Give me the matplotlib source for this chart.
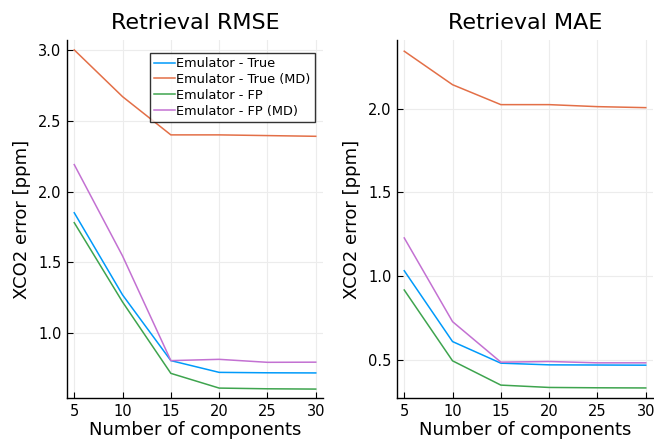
import matplotlib
matplotlib.use("Agg")
import matplotlib.pyplot as plt

n_components = [5, 10, 15, 20, 25, 30]
labels = ["Emulator - True", "Emulator - True (MD)", "Emulator - FP", "Emulator - FP (MD)"]
colors = ["#009AFA", "#E36F47", "#3EA44E", "#C371D2"]

rmse_true = [1.85, 1.27, 0.806, 0.723, 0.720, 0.719]
rmse_true_md = [3.0, 2.67, 2.40, 2.40, 2.395, 2.39]
rmse_fp = [1.78, 1.22, 0.716, 0.612, 0.607, 0.605]
rmse_fp_md = [2.19, 1.545, 0.806, 0.815, 0.794, 0.795]

mae_true = [1.032, 0.609, 0.48, 0.47, 0.469, 0.468]
mae_true_md = [2.343, 2.143, 2.024, 2.024, 2.012, 2.006]
mae_fp = [0.917, 0.494, 0.349, 0.335, 0.333, 0.332]
mae_fp_md = [1.228, 0.728, 0.486, 0.49, 0.482, 0.482]

fig = plt.figure(figsize=(6.54, 4.43), dpi=100)
ax1 = fig.add_axes([67 / 654, 1 - 398 / 443, 256 / 654, 358 / 443])
ax2 = fig.add_axes([397 / 654, 1 - 398 / 443, 256 / 654, 358 / 443])


def style(ax, title):
    for s in ["top", "right"]:
        ax.spines[s].set_visible(False)
    for s in ["left", "bottom"]:
        ax.spines[s].set_linewidth(1.0)
    ax.grid(True, color="#ececec", linewidth=0.8)
    ax.set_axisbelow(True)
    ax.tick_params(direction="in", length=4, width=0.8, labelsize=10.5, pad=4)
    ax.set_xticks(n_components)
    ax.set_xlim(4.25, 30.75)
    ax.set_title(title, fontsize=16, pad=8)
    ax.set_xlabel("Number of components", fontsize=13, labelpad=2)
    ax.set_ylabel("XCO2 error [ppm]", fontsize=13, labelpad=5)


for vals, lab, c in zip([rmse_true, rmse_true_md, rmse_fp, rmse_fp_md], labels, colors):
    ax1.plot(n_components, vals, color=c, lw=1.1, label=lab)
for vals, lab, c in zip([mae_true, mae_true_md, mae_fp, mae_fp_md], labels, colors):
    ax2.plot(n_components, vals, color=c, lw=1.1, label=lab)

style(ax1, "Retrieval RMSE")
style(ax2, "Retrieval MAE")
ax1.set_ylim(0.542, 3.07)
ax1.set_yticks([1.0, 1.5, 2.0, 2.5, 3.0])
ax2.set_ylim(0.272, 2.41)
ax2.set_yticks([0.5, 1.0, 1.5, 2.0])

leg = ax1.legend(loc="upper right", bbox_to_anchor=(0.97, 0.965), fontsize=9.3,
                 frameon=True, fancybox=False, handlelength=1.6, handletextpad=0.1,
                 borderpad=0.35, labelspacing=0.22, borderaxespad=0)
leg.get_frame().set_edgecolor("black")
leg.get_frame().set_linewidth(1.0)

fig.savefig("out.png", dpi=100)
